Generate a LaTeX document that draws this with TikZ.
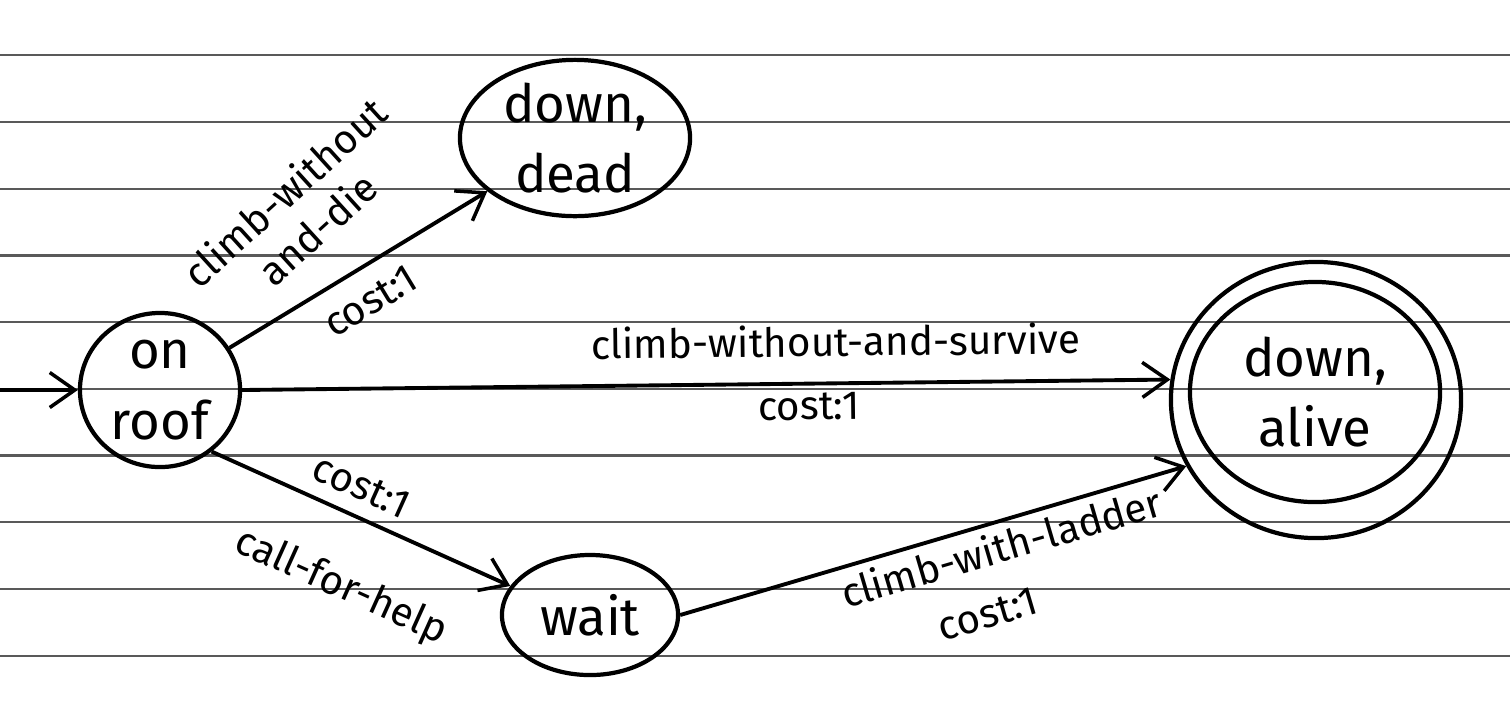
\documentclass[tikz,border=0pt]{standalone}
\usepackage{fontspec}
\setmainfont{Fira Sans}
\usetikzlibrary{shapes.geometric,arrows.meta}
\begin{document}
\begin{tikzpicture}[x=0.01cm,y=-0.01cm,
  rule/.style={line width=0.7pt,draw=black!65},
  statenode/.style={ellipse,draw,line width=1.2pt,inner sep=0pt,align=center,
    font=\fontsize{15}{20}\selectfont},
  edgeline/.style={line width=1.1pt,-{Straight Barb[length=2.5mm,width=3.5mm,line width=1pt]}},
  lbl/.style={font=\fontsize{11.5}{14}\selectfont,sloped,inner sep=2pt,align=center}]
\useasboundingbox (0,0) rectangle (1510,708);
\fill[white] (0,0) rectangle (1510,708);
\foreach \yy in {55,122,189,255.5,322,389,455.5,522,589,656}
  \draw[rule] (0,\yy) -- (1510,\yy);
\node[statenode,minimum width=1.6cm,minimum height=1.54cm] (roof) at (160,390) {on\\roof};
\node[statenode,minimum width=2.3cm,minimum height=1.56cm] (dead) at (575,138) {down,\\dead};
\node[statenode,minimum width=1.76cm,minimum height=1.2cm] (wait) at (590,615) {wait};
\node[statenode,minimum width=2.5cm,minimum height=2.2cm] (alive) at (1315,392) {down,\\alive};
\node[statenode,minimum width=2.9cm,minimum height=2.76cm] (aliveout) at (1316,400) {};
\coordinate (start) at (0,390);
\draw[edgeline] (start) -- (roof.west);
\draw[edgeline] (roof) -- node[lbl,pos=0.47,above=9pt,rotate=11] {climb-without\\and-die}
  node[lbl,pos=0.48,below=3pt] {cost:1} (dead);
\draw[edgeline] (roof.east) -- node[lbl,pos=0.64,above=5pt] {climb-without-and-survive}
  node[lbl,pos=0.61,below=0pt] {cost:1} (aliveout.172);
\draw[edgeline] (roof.-50) -- node[lbl,pos=0.46,above=2pt] {cost:1}
  node[lbl,pos=0.53,below=12pt] {call-for-help} (wait.160);
\draw[edgeline] (wait.east) -- node[lbl,pos=0.62,below=0pt] {climb-with-ladder}
  node[lbl,pos=0.56,below=18pt] {cost:1} (aliveout.207);
\end{tikzpicture}
\end{document}
